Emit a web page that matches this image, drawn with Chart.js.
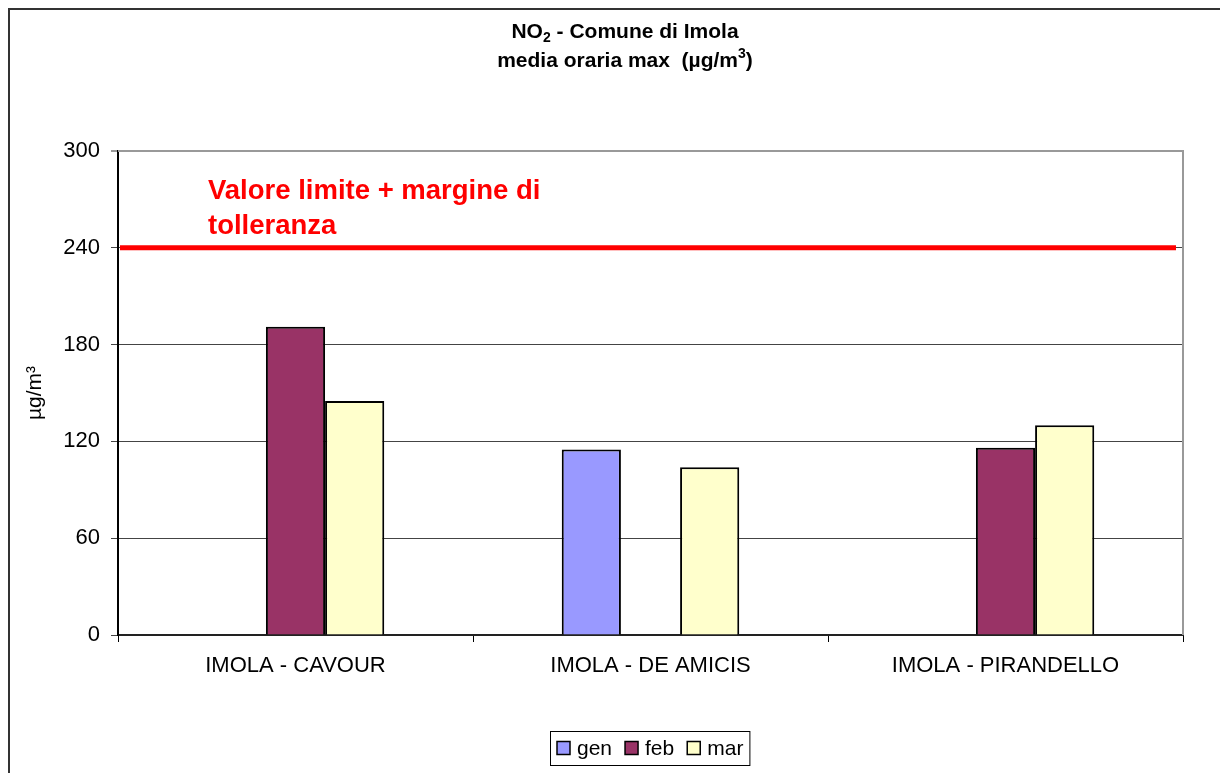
<!DOCTYPE html>
<html lang="it">
<head>
  <meta charset="UTF-8" />
  <title>NO2 - Comune di Imola</title>
  <script src="https://cdn.jsdelivr.net/npm/chart.js"></script>
  <style>
    html, body { margin: 0; padding: 0; background: #fff; }
    #wrap { width: 1220px; height: 773px; }
  </style>
</head>
<body>
  <div id="wrap"><canvas id="no2Chart" width="1220" height="773"></canvas></div>

  <script>
    // data
    const stations = ['IMOLA - CAVOUR', 'IMOLA - DE AMICIS', 'IMOLA - PIRANDELLO'];
    const months = ['gen', 'feb', 'mar'];
    const genValues = [null, 115, null];
    const febValues = [191, null, 116];
    const marValues = [145, 104, 130];
    const yTicks = [0, 60, 120, 180, 240, 300];
    const limitValue = 240;
    const limitLabel = ['Valore limite + margine di', 'tolleranza'];
    const monthColors = ['#9999FF', '#993366', '#FFFFCC'];

    const FONT = "'Liberation Sans', Arial, sans-serif";

    // draws a line of text with sub/superscript parts, centred on cx
    function drawRich(ctx, parts, cx, baseline, size) {
      const pieces = parts.map(p => {
        const s = p.sub || p.sup ? Math.round(size * 0.65) : size;
        ctx.font = 'bold ' + s + 'px ' + FONT;
        return { t: p.t, s: s, w: ctx.measureText(p.t).width, dy: p.sub ? 4 : (p.sup ? -9 : 0) };
      });
      let x = cx - pieces.reduce((a, p) => a + p.w, 0) / 2;
      pieces.forEach(p => {
        ctx.font = 'bold ' + p.s + 'px ' + FONT;
        ctx.fillText(p.t, x, baseline + p.dy);
        x += p.w;
      });
    }

    const decorPlugin = {
      id: 'decor',
      beforeDraw(chart) {
        const ctx = chart.ctx;
        ctx.save();
        ctx.fillStyle = '#fff';
        ctx.fillRect(0, 0, chart.width, chart.height);
        // outer frame (only left and top edges fall inside the picture)
        ctx.strokeStyle = '#333';
        ctx.lineWidth = 2;
        ctx.strokeRect(9, 9, chart.width + 20, chart.height + 20);
        ctx.restore();
      },
      afterDatasetsDraw(chart) {
        const ctx = chart.ctx;
        const area = chart.chartArea;
        const y = chart.scales.y;
        ctx.save();
        // plot frame top and right
        ctx.strokeStyle = '#999';
        ctx.lineWidth = 2;
        ctx.beginPath();
        ctx.moveTo(area.left, area.top);
        ctx.lineTo(area.right, area.top);
        ctx.lineTo(area.right, area.bottom);
        ctx.stroke();

        // limit line
        const ly = y.getPixelForValue(limitValue);
        ctx.strokeStyle = '#FF0000';
        ctx.lineWidth = 5;
        ctx.beginPath();
        ctx.moveTo(area.left + 2, ly);
        ctx.lineTo(area.right - 7, ly);
        ctx.stroke();

        ctx.fillStyle = '#FF0000';
        ctx.font = 'bold 27.5px ' + FONT;
        ctx.textAlign = 'left';
        ctx.textBaseline = 'alphabetic';
        limitLabel.forEach((t, i) => ctx.fillText(t, 208, ly - 49 + i * 35));

        // title
        ctx.fillStyle = '#000';
        drawRich(ctx, [{ t: 'NO' }, { t: '2', sub: true }, { t: ' - Comune di Imola' }], 625, 38, 21);
        drawRich(ctx, [{ t: 'media oraria max  (µg/m' }, { t: '3', sup: true }, { t: ')' }], 625, 67, 21);

        // legend
        ctx.font = '21px ' + FONT;
        ctx.textBaseline = 'middle';
        let x = 557;
        const ty = 748;
        chart.data.datasets.forEach(ds => {
          ctx.fillStyle = ds.backgroundColor;
          ctx.fillRect(x, ty - 6.5, 13, 13);
          ctx.strokeStyle = '#000';
          ctx.lineWidth = 1.5;
          ctx.strokeRect(x, ty - 6.5, 13, 13);
          ctx.fillStyle = '#000';
          ctx.fillText(ds.label, x + 20, ty + 1);
          x += 20 + ctx.measureText(ds.label).width + 13;
        });
        ctx.strokeStyle = '#000';
        ctx.lineWidth = 1;
        ctx.strokeRect(550.5, 731.5, x - 550 - 7, 34);
        ctx.restore();
      }
    };

    const makeSet = (label, data, color) => ({
      label: label,
      data: data,
      backgroundColor: color,
      borderColor: '#000',
      borderWidth: 2,
      categoryPercentage: 0.5,
      barPercentage: 1.0
    });

    new Chart(document.getElementById('no2Chart').getContext('2d'), {
      type: 'bar',
      data: {
        labels: stations,
        datasets: [
          makeSet(months[0], genValues, monthColors[0]),
          makeSet(months[1], febValues, monthColors[1]),
          makeSet(months[2], marValues, monthColors[2])
        ]
      },
      options: {
        responsive: false,
        animation: false,
        devicePixelRatio: 1,
        layout: { padding: { left: 20, right: 37, top: 151, bottom: 0 } },
        plugins: {
          legend: { display: false },
          title: { display: false },
          tooltip: { enabled: false }
        },
        scales: {
          x: {
            afterFit(scale) { scale.height = 138; },
            grid: {
              offset: true,
              drawOnChartArea: false,
              drawTicks: true,
              tickLength: 7,
              color: '#000'
            },
            border: { color: '#222', width: 2 },
            ticks: {
              color: '#000',
              padding: 11,
              maxRotation: 0,
              font: { family: FONT, size: 22 }
            }
          },
          y: {
            min: 0,
            max: 300,
            afterFit(scale) { scale.width = 98; },
            afterBuildTicks(scale) { scale.ticks = yTicks.map(v => ({ value: v })); },
            grid: {
              color: ctx => ctx.tick && ctx.tick.value === 300 ? '#999' : '#444',
              lineWidth: ctx => ctx.tick && ctx.tick.value === 300 ? 2 : 1,
              tickLength: 7
            },
            border: { color: '#000', width: 2 },
            ticks: {
              color: '#000',
              padding: 11,
              font: { family: FONT, size: 22 }
            },
            title: {
              display: true,
              text: 'µg/m³',
              color: '#000',
              padding: { top: 3, bottom: 0 },
              font: { family: FONT, size: 21 }
            }
          }
        }
      },
      plugins: [decorPlugin]
    });
  </script>
</body>
</html>
